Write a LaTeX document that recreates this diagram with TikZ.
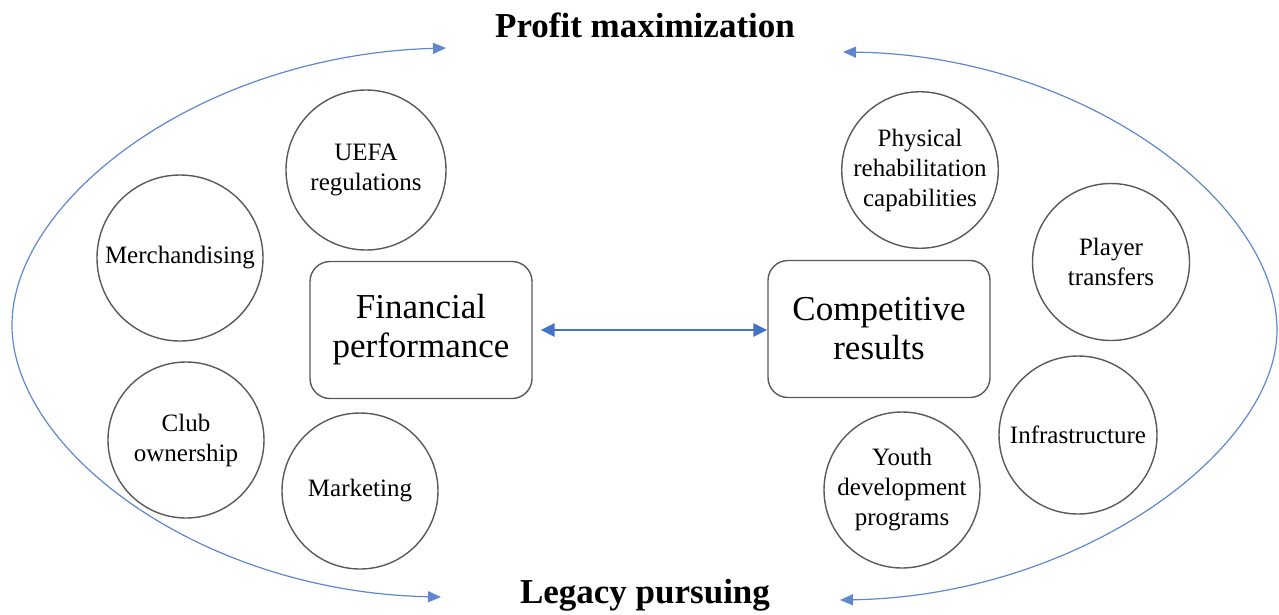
\documentclass[tikz,border=0pt]{standalone}
\usepackage{fontspec}
\setmainfont{Liberation Serif}
\usetikzlibrary{arrows.meta}
\definecolor{arcblue}{HTML}{4472C4}
\definecolor{edgegray}{HTML}{595959}

\begin{document}
\begin{tikzpicture}[x=1pt, y=-1pt, >={Triangle[length=13pt,width=11pt]},
    factor/.style={circle, draw=edgegray, line width=1.4pt, inner sep=0pt,
      align=center, font=\fontsize{25}{30}\selectfont},
    core/.style={rectangle, rounded corners=20pt, draw=edgegray, line width=1.4pt,
      minimum width=222pt, minimum height=137pt, align=center,
      font=\fontsize{35}{39}\selectfont},
    goal/.style={anchor=base, font=\bfseries\fontsize{35}{40}\selectfont},
    loop/.style={<->, arcblue!85, line width=1.2pt}]
  \useasboundingbox (0,0) rectangle (1279,614);

  % the two goals
  \node[goal] (profit) at (645,37)  {Profit maximization};
  \node[goal] (legacy) at (645,603) {Legacy pursuing};

  % the two outcomes and the link between them
  \node[core] (fin)  at (421,330) {Financial\\performance};
  \node[core] (comp) at (879,329) {Competitive\\results};
  \draw[<->, arcblue, line width=2.6pt, shorten <=8pt,
        >={Triangle[length=14pt,width=13pt]}] (fin.east) -- (comp.west |- fin.east);

  % factors around each outcome
  \foreach \name/\x/\y/\d/\txt in {
      uefa/366/170/160/{UEFA\\regulations},
      merch/180/258/166/{Merchandising},
      club/186/440/156/{Club\\ownership},
      mkt/360/491/156/{Marketing},
      phys/920/170/155/{Physical\\rehabilitation\\capabilities},
      transf/1111/262/157/{Player\\transfers},
      infra/1078/435/158/{Infrastructure},
      youth/902/490/156/{Youth\\development\\programs}}{
    \node[factor, minimum size=\d pt] (\name) at (\x,\y) {\txt};
  }

  % loops between the goals
  \coordinate (pl) at (446,48);
  \coordinate (ll) at (441,597);
  \coordinate (pr) at (843,52);
  \coordinate (lr) at (840,600);
  \draw[loop] (pl) .. controls (200,55) and (12,200) .. (12,325)
                   .. controls (12,450) and (200,592) .. (ll);
  \draw[loop] (pr) .. controls (1080,55) and (1277,200) .. (1277,330)
                   .. controls (1277,450) and (1080,596) .. (lr);
\end{tikzpicture}
\end{document}
